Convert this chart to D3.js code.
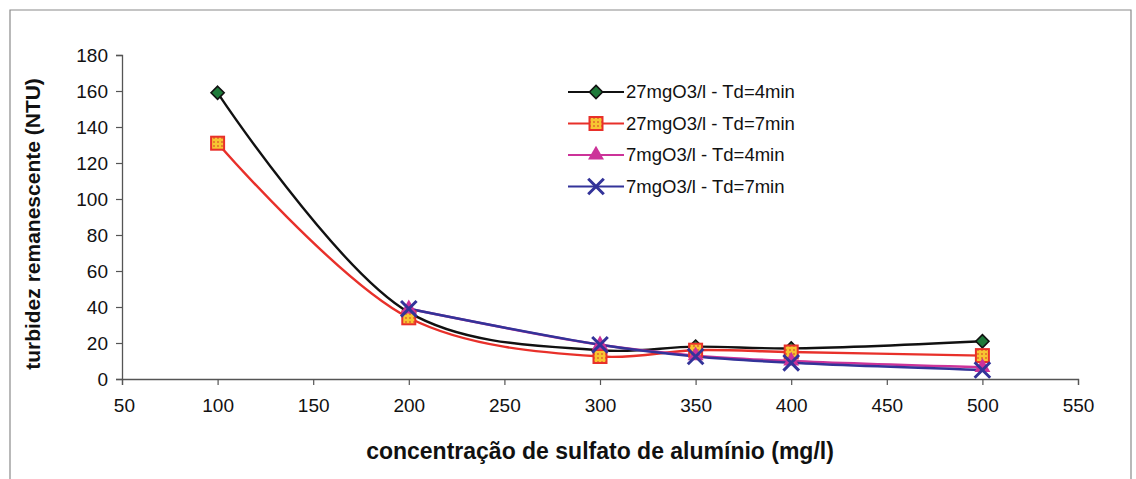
<!DOCTYPE html>
<html>
<head>
<meta charset="utf-8">
<script src="https://cdn.jsdelivr.net/npm/d3@7"></script>
<style>
  html, body { margin: 0; padding: 0; background: #fff; }
  svg { display: block; font-family: "Liberation Sans", Arial, sans-serif; }
</style>
</head>
<body>
<div id="chart"></div>
<script>
// concentração de sulfato de alumínio (mg/l) vs turbidez remanescente (NTU)
const doses = [100, 200, 300, 350, 400, 500];
const s27td4 = [159, 37, 16, 18, 17, 21];
const s27td7 = [131, 34, 12.5, 16, 15, 13];
const s7td4 = [null, 39, 19, 13, 10, 6.5];
const s7td7 = [null, 39, 19, 12.5, 9, 5];
const seriesNames = ['27mgO3/l - Td=4min', '27mgO3/l - Td=7min', '7mgO3/l - Td=4min', '7mgO3/l - Td=7min'];
const xTicks = [50, 100, 150, 200, 250, 300, 350, 400, 450, 500, 550];
const yTicks = [0, 20, 40, 60, 80, 100, 120, 140, 160, 180];

const W = 1136, H = 479;

const svg = d3.select('#chart').append('svg')
  .attr('width', W).attr('height', H);

// outer frame (open at the bottom, like the scanned figure)
svg.append('path')
  .attr('d', `M10,${H} V10 H1131 V${H}`)
  .attr('fill', 'none').attr('stroke', '#8a8a8a').attr('stroke-width', 1.2);

const x = d3.scaleLinear().domain([50, 550]).range([122, 1078]);
const y = d3.scaleLinear().domain([0, 180]).range([379, 55]);

// axes
const gx = svg.append('g').attr('transform', `translate(0,${y(0)})`)
  .call(d3.axisBottom(x).tickValues(xTicks).tickSize(6).tickPadding(14));
const gy = svg.append('g').attr('transform', `translate(${x(50)},0)`)
  .call(d3.axisLeft(y).tickValues(yTicks).tickSize(6).tickPadding(8));

[gx, gy].forEach(g => {
  g.select('.domain').attr('stroke', '#555').attr('stroke-width', 1.3);
  g.selectAll('.tick line').attr('stroke', '#555').attr('stroke-width', 1.2);
  g.selectAll('.tick text').attr('fill', '#111')
    .style('font-size', '19px').style('font-family', '"Liberation Sans", Arial, sans-serif');
});
gx.select('.tick text').attr('dx', '0.1em');

// axis titles
svg.append('text')
  .attr('x', 600).attr('y', 459)
  .attr('text-anchor', 'middle')
  .style('font-size', '23px').style('font-weight', 'bold').attr('fill', '#111')
  .text('concentração de sulfato de alumínio (mg/l)');

svg.append('text')
  .attr('transform', 'translate(40,224) rotate(-90)')
  .attr('text-anchor', 'middle')
  .style('font-size', '21px').style('font-weight', 'bold').attr('fill', '#111')
  .text('turbidez remanescente (NTU)');

const series = [
  { name: seriesNames[0], values: s27td4, color: '#111', marker: 'diamond' },
  { name: seriesNames[1], values: s27td7, color: '#e8302a', marker: 'square' },
  { name: seriesNames[2], values: s7td4, color: '#cc3399', marker: 'triangle' },
  { name: seriesNames[3], values: s7td7, color: '#333399', marker: 'cross' }
];

const line = d3.line()
  .defined(d => d.v != null)
  .x(d => x(d.x)).y(d => y(d.v))
  .curve(d3.curveCatmullRom.alpha(0.5));

function drawMarker(g, type, cx, cy, color) {
  if (type === 'diamond') {
    g.append('path')
      .attr('d', d3.symbol(d3.symbolDiamond2, 110)())
      .attr('transform', `translate(${cx},${cy})`)
      .attr('fill', '#1f7a3a').attr('stroke', '#111').attr('stroke-width', 1.6);
  } else if (type === 'square') {
    g.append('rect')
      .attr('x', cx - 6.5).attr('y', cy - 6.5).attr('width', 13).attr('height', 13)
      .attr('fill', 'url(#dots)').attr('stroke', color).attr('stroke-width', 2);
  } else if (type === 'triangle') {
    g.append('path')
      .attr('d', d3.symbol(d3.symbolTriangle, 110)())
      .attr('transform', `translate(${cx},${cy})`)
      .attr('fill', color);
  } else {
    g.append('path')
      .attr('d', d3.symbol(d3.symbolX, 160)())
      .attr('transform', `translate(${cx},${cy})`)
      .attr('fill', 'none').attr('stroke', color).attr('stroke-width', 3);
  }
}

// dotted fill for square markers
const pat = svg.append('defs').append('pattern')
  .attr('id', 'dots').attr('patternUnits', 'userSpaceOnUse')
  .attr('width', 4).attr('height', 4);
pat.append('rect').attr('width', 4).attr('height', 4).attr('fill', '#f7c531');
pat.append('circle').attr('cx', 2).attr('cy', 2).attr('r', 0.9).attr('fill', '#e0602a');

const plot = svg.append('g');
series.forEach(s => {
  const pts = doses.map((d, i) => ({ x: d, v: s.values[i] }));
  plot.append('path')
    .attr('d', line(pts))
    .attr('fill', 'none').attr('stroke', s.color).attr('stroke-width', 2.4);
});
series.forEach(s => {
  doses.forEach((d, i) => {
    if (s.values[i] != null) drawMarker(plot, s.marker, x(d), y(s.values[i]), s.color);
  });
});

// legend
const legend = svg.append('g');
series.forEach((s, i) => {
  const ly = 92 + i * 31.5;
  legend.append('line')
    .attr('x1', 568).attr('x2', 624).attr('y1', ly).attr('y2', ly)
    .attr('stroke', s.color).attr('stroke-width', 2);
  drawMarker(legend, s.marker, 596, ly, s.color);
  legend.append('text')
    .attr('x', 626).attr('y', ly).attr('dy', '0.35em')
    .style('font-size', '18.5px').attr('fill', '#111')
    .text(s.name);
});
</script>
</body>
</html>
